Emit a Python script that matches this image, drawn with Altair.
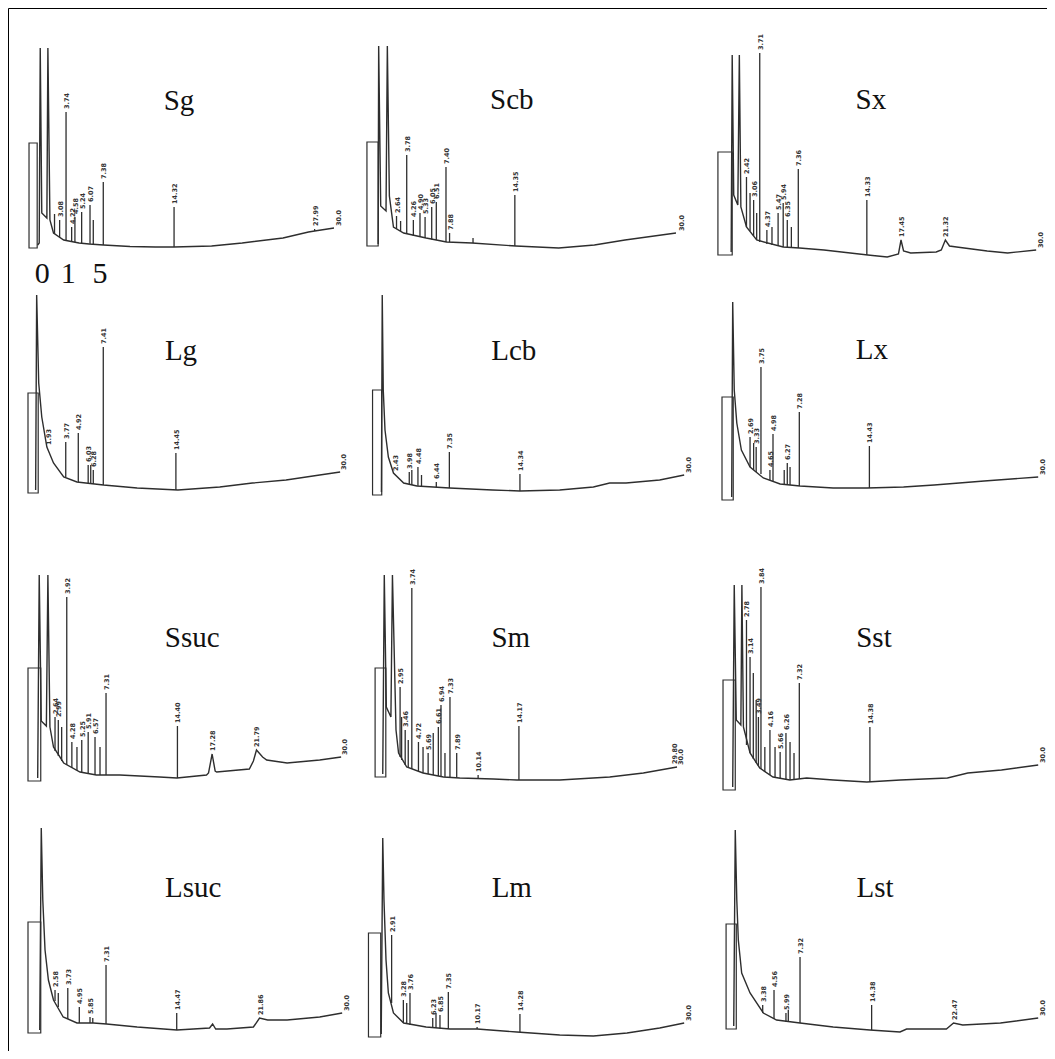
import altair as alt
import pandas as pd

# ---------------- data ----------------
PANELS = ["Sg", "Scb", "Sx", "Lg", "Lcb", "Lx", "Ssuc", "Sm", "Sst", "Lsuc", "Lm", "Lst"]

# baseline / solvent-front traces: (rt min, response)
SG_TRACE = [(0.95, 3), (1.1, 5), (1.2, 200), (1.35, 35), (1.85, 30), (1.95, 200), (2.15, 28), (2.5, 15), (3.5, 8), (5, 5), (6, 4), (7.4, 3), (10, 1.5), (12.5, 1), (14.3, 1), (18, 2), (21, 5), (25, 10), (27.5, 16), (28.1, 17), (30, 20)]
SCB_TRACE = [(0.8, 2), (0.85, 200), (1.05, 40), (1.57, 35), (1.7, 200), (1.9, 50), (2.3, 19), (3.3, 13), (5.5, 8), (7.5, 4), (10, 3), (14.3, 0), (18.5, -2), (22, 1), (25, 6), (30, 13)]
SX_TRACE = [(0.9, 3), (1.0, 200), (1.15, 60), (1.55, 50), (1.7, 200), (1.85, 48), (2.4, 28), (3.4, 15), (6, 8), (7.6, 7), (10, 5), (14.3, 0), (16.2, -2), (17.3, 1), (17.55, 15), (17.8, 4), (18.5, 2), (21, 3), (21.5, 5), (21.9, 15), (22.3, 9), (23, 8), (26, 4), (28, 2), (30.8, 5)]
LG_TRACE = [(0.75, 3), (0.85, 198), (1.05, 110), (1.35, 76), (1.85, 46), (2.5, 30), (3.5, 16), (4.8, 11), (7.4, 8), (10.7, 5), (14.7, 3), (18.8, 6), (22, 10), (25.3, 13), (28.6, 18), (30.6, 21)]
LCB_TRACE = [(1.12, 3), (1.2, 200), (1.3, 105), (1.47, 65), (1.8, 38), (2.3, 22), (3.3, 12), (4.6, 9), (7.8, 7), (12, 5), (14.7, 4), (18.6, 5), (21.9, 8), (23.5, 12), (25.1, 12), (28.4, 15), (30.8, 20)]
LX_TRACE = [(0.95, 3), (1.05, 198), (1.2, 110), (1.45, 77), (1.9, 50), (2.75, 33), (4.05, 22), (5.7, 16), (7.65, 14), (10.9, 12), (14.2, 12), (17.8, 13), (20.8, 15), (25.7, 19), (31, 23)]
SSUC_TRACE = [(0.95, 3), (1.1, 206), (1.3, 60), (1.8, 55), (1.95, 206), (2.15, 54), (2.5, 34), (3.5, 18), (5.1, 9), (6.7, 6), (9, 6), (12.9, 4), (14.6, 3), (17.5, 6), (17.7, 8), (18.05, 27), (18.35, 10), (18.5, 9), (21.7, 12), (22.1, 20), (22.4, 31), (23.0, 24), (23.4, 21), (25.4, 18), (28.6, 21), (30.7, 24)]
SM_TRACE = [(1.25, 3), (1.4, 202), (1.6, 70), (2.05, 60), (2.2, 202), (2.55, 47), (2.8, 24), (3.6, 10), (5.2, 4), (7.2, 0), (8.8, -1), (12.1, -2), (14.4, -3), (18.6, -3), (23.5, 0), (26.8, 4), (30.1, 10)]
SST_TRACE = [(1.05, 3), (1.2, 205), (1.4, 70), (1.85, 65), (1.95, 205), (2.1, 63), (2.75, 37), (3.7, 22), (5, 13), (6.65, 10), (8.3, 12), (10.9, 10), (14.2, 8), (17.5, 10), (22.1, 12), (24.1, 17), (27.4, 20), (31, 25)]
LSUC_TRACE = [(1.15, 3), (1.3, 205), (1.45, 133), (1.67, 83), (2, 53), (2.5, 33), (3.45, 16), (4.8, 10), (6.4, 10), (7.7, 9), (10.7, 6), (14.6, 3), (17.8, 5), (18.1, 9), (18.4, 4), (19.5, 4), (22.1, 6), (22.7, 15), (23.5, 13), (25.4, 13), (28.6, 16), (30.8, 20)]
LM_TRACE = [(1.1, 3), (1.25, 199), (1.37, 137), (1.57, 77), (1.8, 44), (2.3, 24), (3.3, 14), (5.5, 10), (7.85, 8), (10.5, 8), (14.4, 5), (18.6, 2), (21.9, 1), (25.2, 4), (28.4, 9), (30.8, 14)]
LST_TRACE = [(1.15, 3), (1.3, 199), (1.45, 129), (1.6, 89), (1.93, 56), (2.75, 36), (4.05, 16), (5.35, 9), (7.65, 6), (10.9, 2), (14.5, -1), (17.45, -3), (18.1, 0), (22.0, 0), (22.7, 6), (23.6, 4), (27.3, 6), (31, 11)]

# resolved peaks: (rt, response at peak foot, response at apex, printed retention time)
SG_PEAKS = [(2.6, 14, 34, ""), (3.1, 11, 28, "3.08"), (3.73, 7, 136, "3.74"), (4.28, 6.5, 21, "4.22"), (4.6, 6, 31, "4.58"), (5.26, 5, 36, "5.24"), (6.08, 4, 43, "6.07"), (6.4, 4, 28, ""), (7.38, 3, 66, "7.38"), (14.32, 1, 41, "14.32"), (28.1, 17, 19, "27.99")]
SCB_PEAKS = [(2.6, 17, 30, "2.64"), (3.0, 15, 25, ""), (3.6, 12, 91, "3.78"), (4.25, 10, 26, "4.26"), (4.9, 9, 33, "4.90"), (5.4, 8, 29, "5.33"), (6.05, 6.5, 39, "6.05"), (6.5, 6, 44, "6.51"), (7.45, 4, 79, "7.40"), (7.8, 4, 13, "7.88"), (10.1, 3, 8, ""), (14.2, 0, 51, "14.35")]
SX_PEAKS = [(2.4, 28, 78, "2.42"), (2.75, 24, 62, ""), (3.1, 19, 55, "3.06"), (3.4, 15, 42, ""), (3.7, 13, 202, "3.71"), (4.4, 11, 25, "4.37"), (4.9, 10, 28, ""), (5.5, 9, 42, "5.47"), (6.0, 8, 52, "5.94"), (6.4, 8, 35, "6.35"), (6.8, 7.5, 28, ""), (7.48, 7, 86, "7.36"), (14.2, 0, 55, "14.33"), (17.55, 15, 15, "17.45"), (21.9, 15, 15, "21.32")]
LG_PEAKS = [(3.7, 16, 51, "3.77"), (4.93, 11, 60, "4.92"), (5.9, 10, 28, "6.03"), (6.15, 9.5, 28, ""), (6.4, 9, 23, "6.28"), (7.38, 8, 146, "7.41"), (14.5, 3, 40, "14.45"), (1.95, 45, 45, "1.93")]
LCB_PEAKS = [(3.85, 11, 23, "3.98"), (4.1, 10, 25, ""), (4.7, 9, 28, "4.48"), (5.05, 9, 20, ""), (6.5, 8, 13, "6.44"), (7.78, 7, 43, "7.35"), (14.7, 4, 21, "14.34"), (2.45, 21, 21, "2.43")]
LX_PEAKS = [(2.75, 33, 63, "2.69"), (3.1, 30, 57, ""), (3.35, 28, 53, "3.33"), (3.82, 26, 133, "3.75"), (4.7, 20, 30, "4.65"), (5.0, 19, 66, "4.98"), (6.1, 16, 30, ""), (6.4, 15.5, 37, "6.27"), (6.67, 15, 33, ""), (7.58, 14, 88, "7.28"), (14.45, 12, 54, "14.43")]
SSUC_PEAKS = [(2.65, 30, 64, "2.64"), (2.97, 25, 61, "2.99"), (3.3, 20, 54, ""), (3.8, 16, 184, "3.92"), (4.3, 13, 39, "4.28"), (4.8, 11, 34, ""), (5.27, 9, 41, "5.25"), (5.9, 8, 49, "5.91"), (6.57, 6, 44, "6.57"), (7.06, 6, 34, ""), (7.65, 6, 88, "7.31"), (14.65, 3, 55, "14.40"), (18.05, 27, 27, "17.28"), (22.4, 31, 31, "21.79")]
SM_PEAKS = [(2.95, 20, 90, "2.95"), (3.1, 17, 60, ""), (3.45, 12, 47, "3.46"), (3.75, 10, 37, ""), (4.1, 8, 189, "3.74"), (4.75, 6, 35, "4.72"), (5.2, 4, 30, ""), (5.7, 3, 24, "5.69"), (6.2, 2, 44, ""), (6.7, 1, 50, "6.61"), (6.96, 1, 72, "6.94"), (7.35, 0, 24, ""), (7.84, 0, 80, "7.33"), (8.5, -0.5, 24, "7.89"), (10.6, -1.5, 2, "10.14"), (14.6, -3, 51, "14.17"), (29.85, 10, 10, "29.80")]
SST_PEAKS = [(2.4, 45, 170, "2.78"), (2.75, 37, 133, "3.14"), (3.07, 31, 117, ""), (3.35, 27, 90, ""), (3.57, 24, 73, "3.49"), (3.82, 21, 203, "3.84"), (4.2, 18, 43, ""), (4.7, 15, 60, "4.16"), (5.2, 13, 43, ""), (5.7, 12, 38, "5.66"), (6.27, 11, 57, "6.26"), (6.67, 10, 48, ""), (7.06, 10.5, 37, ""), (7.58, 11, 107, "7.32"), (14.5, 8, 63, "14.38")]
LSUC_PEAKS = [(2.65, 32, 43, "2.58"), (2.97, 26, 40, ""), (3.9, 14, 45, "3.73"), (5.03, 10, 26, "4.95"), (6.08, 10, 16, "5.85"), (6.35, 10, 15, ""), (7.65, 9, 68, "7.31"), (14.58, 3, 20, "14.47"), (22.7, 15, 15, "21.86")]
LM_PEAKS = [(2.12, 34, 102, "2.91"), (3.27, 14, 37, "3.28"), (3.6, 13, 34, ""), (3.92, 12, 44, "3.76"), (6.15, 9, 19, "6.23"), (6.47, 9, 24, ""), (6.86, 8.5, 22, "6.85"), (7.68, 8, 45, "7.35"), (10.5, 8, 10, "10.17"), (14.7, 5, 23, "14.28")]
LST_PEAKS = [(3.99, 16, 24, "3.38"), (5.1, 10, 39, "4.56"), (6.27, 7, 16, "5.99"), (6.5, 7, 19, ""), (7.65, 6, 72, "7.32"), (14.67, -1, 24, "14.38"), (22.7, 6, 6, "22.47")]

# attenuation box drawn by the integrator at injection: (rt start, rt end, height)
BOXES = [(0.1, 0.9, 105), (-0.3, 0.8, 104), (-0.4, 1.0, 103), (0.0, 1.0, 100), (0.25, 1.15, 105), (0.0, 1.1, 103),
         (0.0, 1.25, 113), (0.5, 1.55, 109), (0.1, 1.3, 110), (0.0, 1.25, 111), (-0.15, 1.05, 104), (0.4, 1.4, 105)]
# end-of-run stop time printed at the right end of every trace
END_RT = [30.4, 30.5, 31.2, 30.9, 31.2, 31.4, 31.0, 30.4, 31.4, 31.2, 31.2, 31.4]
END_RESP = [22, 15, 7, 23, 22, 25, 26, 12, 27, 22, 16, 13]
END_LABEL = "30.0"

# peak numbers written under the first chromatogram
PEAK_NUMBERS = ["0", "1", "5"]
PEAK_NUMBER_RT = [1.4, 3.95, 7.06]

TRACES = [SG_TRACE, SCB_TRACE, SX_TRACE, LG_TRACE, LCB_TRACE, LX_TRACE,
          SSUC_TRACE, SM_TRACE, SST_TRACE, LSUC_TRACE, LM_TRACE, LST_TRACE]
PEAKS = [SG_PEAKS, SCB_PEAKS, SX_PEAKS, LG_PEAKS, LCB_PEAKS, LX_PEAKS,
         SSUC_PEAKS, SM_PEAKS, SST_PEAKS, LSUC_PEAKS, LM_PEAKS, LST_PEAKS]

# ---------------- layout (not data) ----------------
PX_PER_MIN = 10.2
W, H = 1039, 1043
COL_ORIGIN = [(28 - 8) / PX_PER_MIN, (370 - 8) / PX_PER_MIN, (722 - 8) / PX_PER_MIN]
PANEL_Y0 = [1051 - v for v in [248, 246, 255, 493, 495, 500, 781, 777, 790, 1033, 1037, 1029]]
TITLE_RT = [14.8, 13.9, 14.6, 15.0, 14.1, 14.7, 16.1, 13.8, 14.9, 16.2, 13.9, 15.0]
TITLE_RESP = [138, 137, 146, 133, 135, 141, 134, 130, 143, 136, 140, 132]


def px(i, rt):
    return round(COL_ORIGIN[i % 3] + rt, 4)


def py(i, v):
    return round(PANEL_Y0[i] + v, 4)


trace_rows, rule_rows, label_rows, box_rows, title_rows = [], [], [], [], []
for i, name in enumerate(PANELS):
    b0, b1, bh = BOXES[i]
    box_rows.append({"panel": name, "x": px(i, b0), "xe": px(i, b1), "y": py(i, 0), "ye": py(i, bh)})
    for k, (rt, v) in enumerate(TRACES[i]):
        trace_rows.append({"panel": name, "seq": k, "x": px(i, rt), "y": py(i, v)})
    for rt, foot, apex, lab in PEAKS[i]:
        if apex > foot:
            rule_rows.append({"panel": name, "x": px(i, rt), "y": py(i, foot), "ye": py(i, apex)})
        if lab:
            label_rows.append({"panel": name, "x": px(i, rt), "y": py(i, apex + 3), "t": lab})
    label_rows.append({"panel": name, "x": px(i, END_RT[i]), "y": py(i, END_RESP[i]), "t": END_LABEL})
    title_rows.append({"panel": name, "x": px(i, TITLE_RT[i]), "y": py(i, TITLE_RESP[i]), "t": name})

num_rows = [{"x": px(0, rt), "y": py(0, -35), "t": t} for t, rt in zip(PEAK_NUMBERS, PEAK_NUMBER_RT)]

xs = alt.Scale(domain=[0, round(W / PX_PER_MIN, 4)], nice=False, zero=False)
ys = alt.Scale(domain=[0, H], nice=False, zero=False)
INK = "#2e2e2e"

X = alt.X("x:Q", scale=xs, axis=None)
Y = alt.Y("y:Q", scale=ys, axis=None)

boxes = alt.Chart(pd.DataFrame(box_rows)).mark_rect(
    fill="white", fillOpacity=0, stroke=INK, strokeWidth=1.2
).encode(x=X, x2="xe:Q", y=Y, y2="ye:Q")

traces = alt.Chart(pd.DataFrame(trace_rows)).mark_line(color=INK, strokeWidth=1.4).encode(
    x=X, y=Y, detail="panel:N", order=alt.Order("seq:Q")
)

rules = alt.Chart(pd.DataFrame(rule_rows)).mark_rule(color=INK, strokeWidth=1.3).encode(
    x=X, y=Y, y2="ye:Q"
)

labels = alt.Chart(pd.DataFrame(label_rows)).mark_text(
    angle=270, align="left", baseline="middle", dy=1, fontSize=6.5, fontWeight="bold",
    font="DejaVu Sans", color="#333333"
).encode(x=X, y=Y, text="t:N")

titles = alt.Chart(pd.DataFrame(title_rows)).mark_text(
    align="center", baseline="alphabetic", fontSize=29, font="Liberation Serif", color="#111111"
).encode(x=X, y=Y, text="t:N")

numbers = alt.Chart(pd.DataFrame(num_rows)).mark_text(
    align="center", baseline="alphabetic", fontSize=30, font="Liberation Serif", color="#111111"
).encode(x=X, y=Y, text="t:N")

chart = alt.layer(boxes, traces, rules, labels, titles, numbers).properties(
    width=W, height=H,
    autosize=alt.AutoSizeParams(type="fit", contains="padding"),
).configure(padding=0, background="white").configure_view(stroke="black", strokeWidth=1)

chart.save("out.html", embed_options={"renderer": "svg", "actions": False})
